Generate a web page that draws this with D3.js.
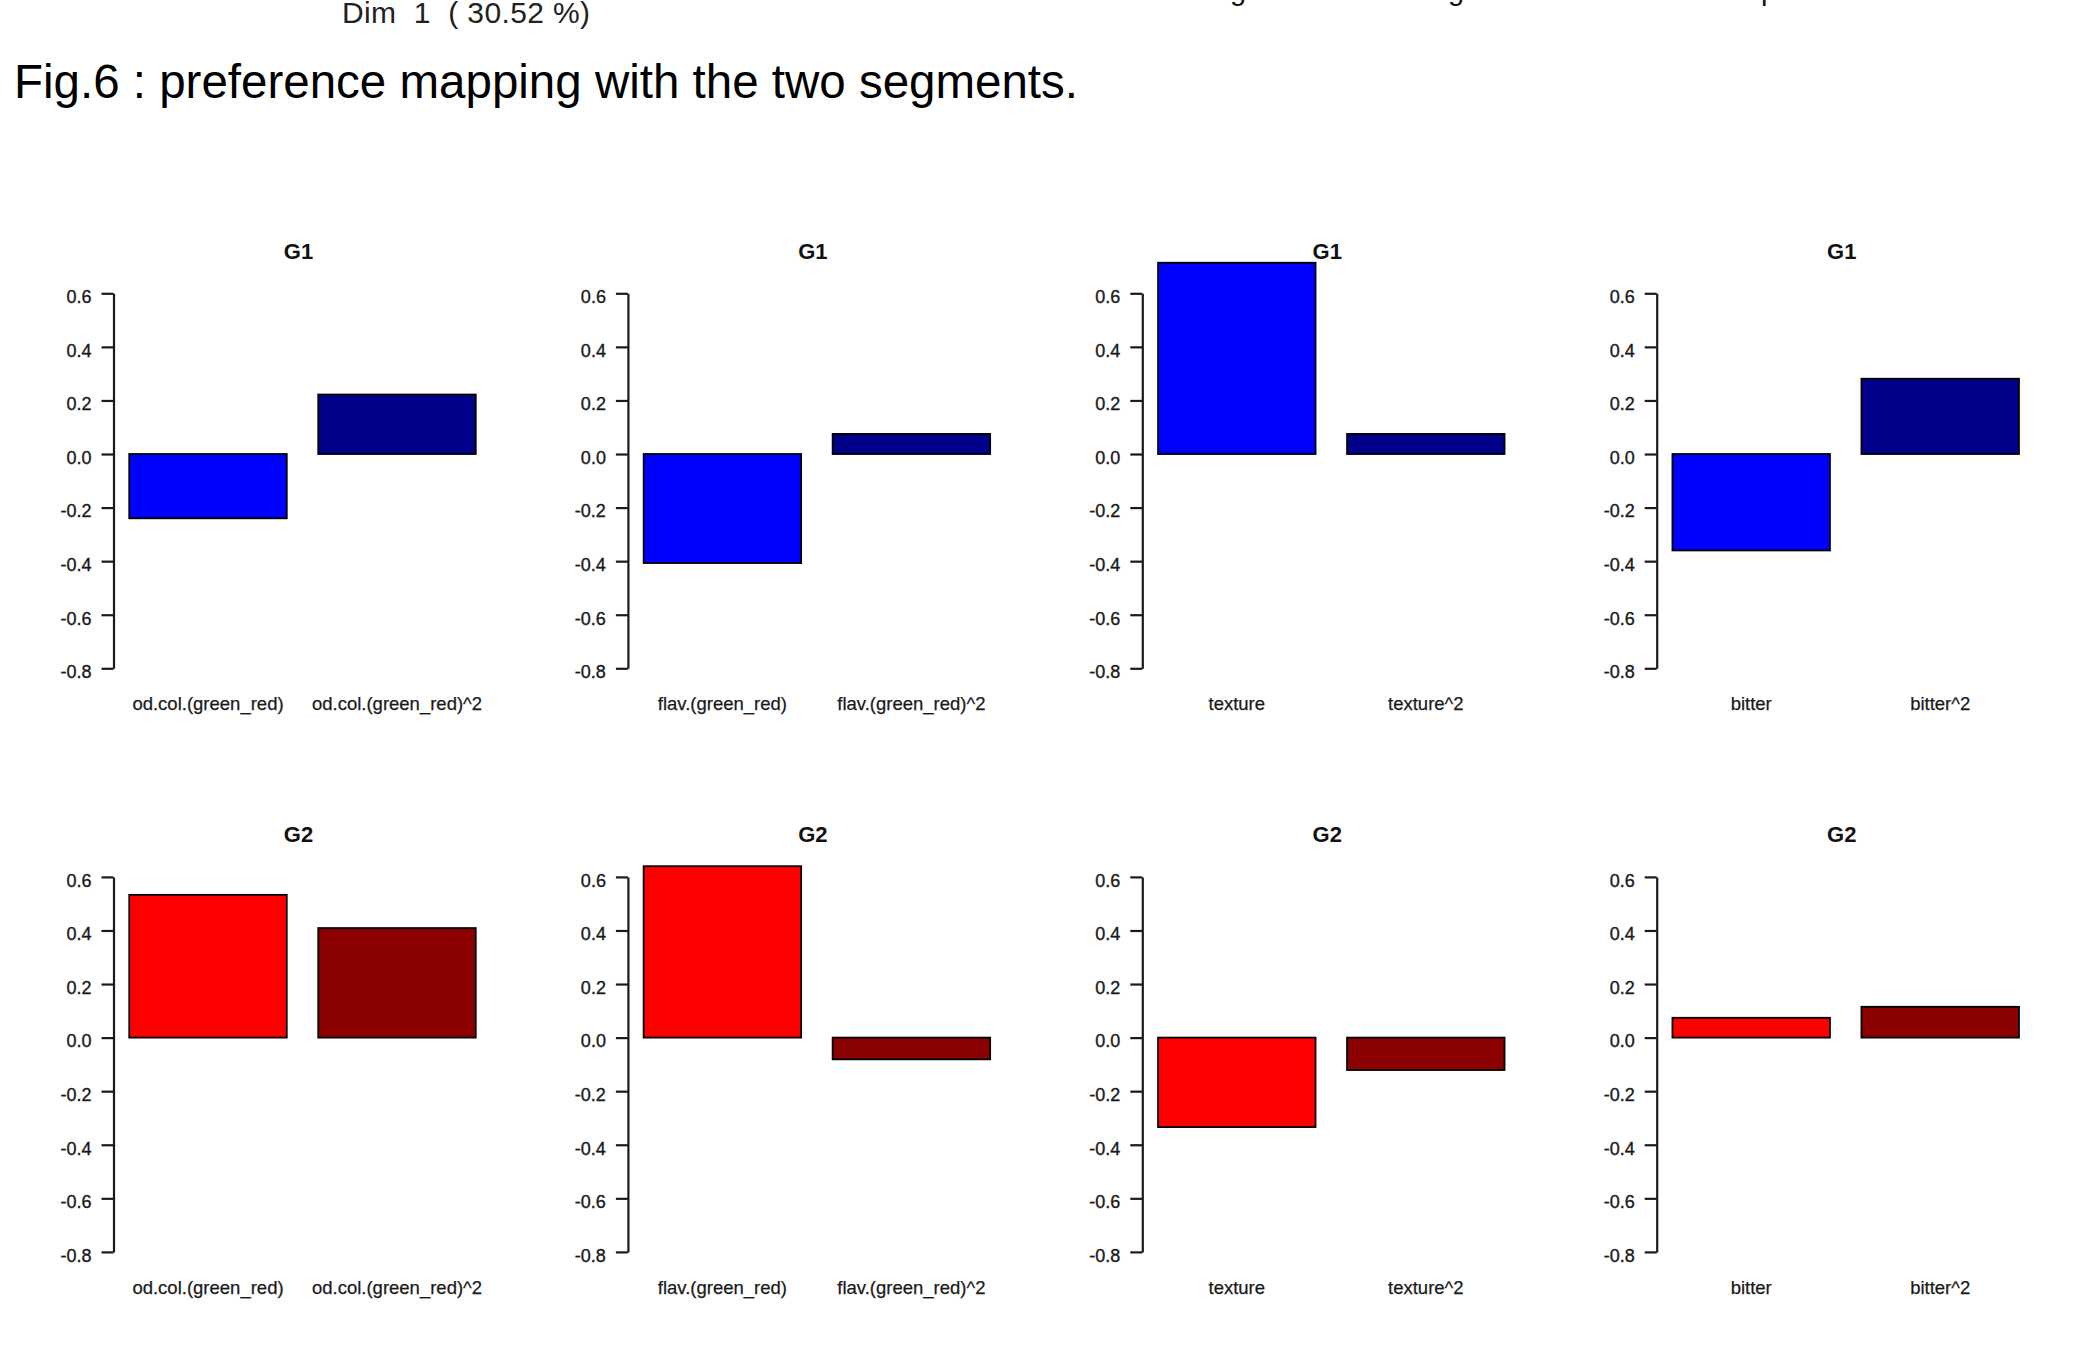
<!DOCTYPE html>
<html>
<head>
<meta charset="utf-8">
<script src="https://cdn.jsdelivr.net/npm/d3@7"></script>
<style>
  html, body { margin: 0; padding: 0; background: #fff; }
  svg { display: block; font-family: "Liberation Sans", Arial, sans-serif; }
</style>
</head>
<body>
<svg id="fig" width="2078" height="1367"></svg>
<script>
// Regression coefficients of the preference map, per segment and sensory attribute
const attributes = ["od.col.(green_red)", "flav.(green_red)", "texture", "bitter"];
const groups = ["G1", "G2"];
const g1Linear    = [-0.240, -0.407,  0.714, -0.360];
const g1Quadratic = [ 0.222,  0.075,  0.075,  0.281];
const g2Linear    = [ 0.533,  0.640, -0.334,  0.074];
const g2Quadratic = [ 0.409, -0.081, -0.121,  0.115];
const yTicks = [-0.8, -0.6, -0.4, -0.2, 0.0, 0.2, 0.4, 0.6];
const groupColors = { G1: ["#0000FF", "#00008B"], G2: ["#FF0000", "#8B0000"] };

const values = {
  G1: [g1Linear, g1Quadratic],
  G2: [g2Linear, g2Quadratic]
};

const svg = d3.select("#fig");

// Header lines above the grid of bar charts
svg.append("text")
  .attr("x", 342).attr("y", 23)
  .attr("font-family", "'Liberation Sans Narrow', 'Liberation Sans', Arial, sans-serif")
  .attr("font-size", 30).attr("fill", "#222")
  .attr("textLength", 248).attr("lengthAdjust", "spacing")
  .style("white-space", "pre")
  .text("Dim  1  ( 30.52 %)");

// descenders of a line of text cut off at the top edge
[["g", 1230], ["g", 1448], ["p", 1761]].forEach(([ch, x]) => {
  svg.append("text").attr("x", x).attr("y", 0)
    .attr("font-size", 29).attr("fill", "#111").text(ch);
});

svg.append("text")
  .attr("x", 14).attr("y", 98)
  .attr("font-size", 47.5).attr("fill", "#000")
  .text("Fig.6 : preference mapping with the two segments.");

// Panel geometry
const axisX0 = 113.5, panelStep = 514.4;
const rowTop = [293.3, 876.9];      // pixel position of y = 0.6 in each row
const yExtent = 375;                // pixels from 0.6 down to -0.8
const unit = 157.5;                 // pixels per bar width

groups.forEach((grp, r) => {
  const y = d3.scaleLinear().domain([-0.8, 0.6]).range([rowTop[r] + yExtent, rowTop[r]]);

  attributes.forEach((attr, c) => {
    const ax = axisX0 + c * panelStep;
    const x = d3.scaleLinear().domain([0.1, 2.5]).range([ax, ax + 2.4 * unit]);
    const g = svg.append("g");

    const bars = [
      { name: attr,        v: values[grp][0][c], x0: 0.2, col: groupColors[grp][0] },
      { name: attr + "^2", v: values[grp][1][c], x0: 1.4, col: groupColors[grp][1] }
    ];

    g.selectAll("rect.bar").data(bars).join("rect")
      .attr("class", "bar")
      .attr("x", d => x(d.x0))
      .attr("width", d => x(d.x0 + 1) - x(d.x0))
      .attr("y", d => Math.min(y(d.v), y(0)))
      .attr("height", d => Math.abs(y(d.v) - y(0)))
      .attr("fill", d => d.col)
      .attr("stroke", "#000")
      .attr("stroke-width", 1.8);

    // category names under the bars
    g.selectAll("text.cat").data(bars).join("text")
      .attr("class", "cat")
      .attr("x", d => x(d.x0 + 0.5))
      .attr("y", y(-0.8) + 41.7)
      .attr("text-anchor", "middle")
      .attr("font-size", 18.5)
      .attr("fill", "#1a1a1a")
      .attr("stroke", "#1a1a1a").attr("stroke-width", 0.25)
      .text(d => d.name);

    // value axis
    const axis = d3.axisLeft(y)
      .tickValues(yTicks)
      .tickSize(12)
      .tickSizeOuter(0)
      .tickPadding(10)
      .tickFormat(d => d.toFixed(1));
    const ag = g.append("g").attr("transform", `translate(${ax},0)`).call(axis);
    ag.select(".domain").attr("stroke", "#1a1a1a").attr("stroke-width", 2.2);
    ag.selectAll(".tick line").attr("stroke", "#1a1a1a").attr("stroke-width", 2.2);
    ag.selectAll(".tick text")
      .attr("font-family", "'Liberation Sans', Arial, sans-serif")
      .attr("font-size", 18)
      .attr("fill", "#1a1a1a")
      .attr("stroke", "#1a1a1a").attr("stroke-width", 0.35)
      .attr("dy", "0.52em");

    // segment title
    g.append("text")
      .attr("x", ax + 185)
      .attr("y", rowTop[r] - 34.5)
      .attr("text-anchor", "middle")
      .attr("font-size", 22)
      .attr("font-weight", "bold")
      .attr("fill", "#111")
      .text(grp);
  });
});
</script>
</body>
</html>
